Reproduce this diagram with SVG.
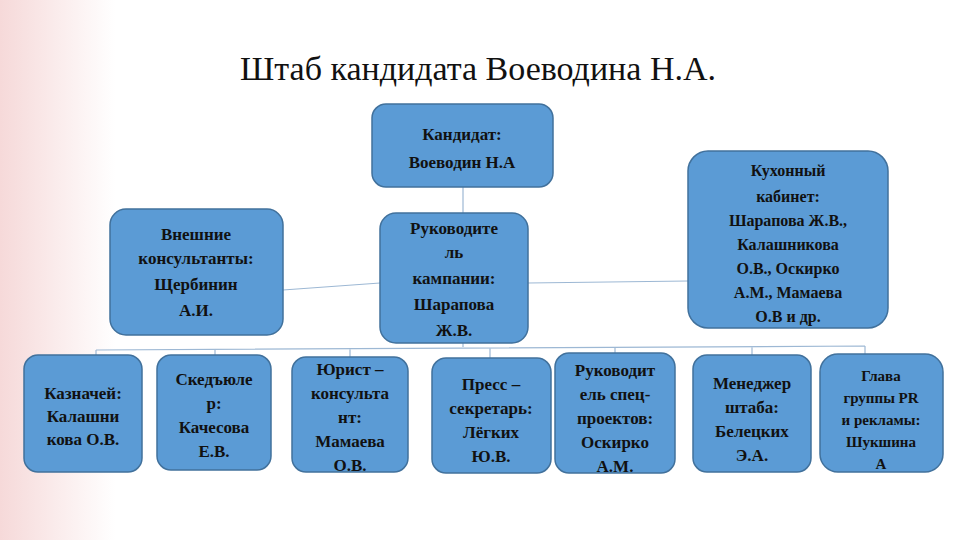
<svg xmlns="http://www.w3.org/2000/svg" width="960" height="540" viewBox="0 0 960 540">
<defs>
<linearGradient id="bg" x1="0" y1="0" x2="1" y2="0">
<stop offset="0" stop-color="#f6d9d9"/><stop offset="0.12" stop-color="#ffffff"/><stop offset="1" stop-color="#ffffff"/>
</linearGradient>
<style>
.n{fill:#5b9bd5;stroke:#41719c;stroke-width:1.5}
.c{stroke:#9db8d4;stroke-width:1.2;fill:none}
</style>
</defs>
<rect width="960" height="540" fill="url(#bg)"/>
<text x="478" y="80" font-family="Liberation Serif,serif" font-size="34" text-anchor="middle" fill="#111">Штаб кандидата Воеводина Н.А.</text>
<g id="connectors">
<path class="c" d="M463 187V213M283 290L380 283M528 283L688 281M463 343V347M96 350L865 346M96 350V356M215 349V355M350 349V357M490 348V358M615 348V353M752 347V355M865 346V354"/>
</g>
<g font-family="Liberation Serif, DejaVu Serif, serif" font-weight="bold" font-size="17" fill="#111" text-anchor="middle">
<g id="candidate"><rect class="n" x="372" y="104" width="181" height="83" rx="14"/>
<text><tspan x="462" y="140">Кандидат:</tspan><tspan x="462" y="168">Воеводин Н.А</tspan></text></g>
<g id="external"><rect class="n" x="110" y="209" width="173" height="126" rx="16"/>
<text><tspan x="196" y="240">Внешние</tspan><tspan x="196" y="264">консультанты:</tspan><tspan x="196" y="290">Щербинин</tspan><tspan x="196" y="316">А.И.</tspan></text></g>
<g id="leader"><rect class="n" x="380" y="213" width="148" height="130" rx="16"/>
<text><tspan x="454" y="234">Руководите</tspan><tspan x="454" y="258">ль</tspan><tspan x="454" y="284">кампании:</tspan><tspan x="454" y="310">Шарапова</tspan><tspan x="454" y="336">Ж.В.</tspan></text></g>
<g id="kitchen"><rect class="n" x="688" y="151" width="200" height="177" rx="20"/>
<text font-size="16"><tspan x="788" y="176">Кухонный</tspan><tspan x="788" y="202">кабинет:</tspan><tspan x="788" y="226">Шарапова Ж.В.,</tspan><tspan x="788" y="250">Калашникова</tspan><tspan x="788" y="274">О.В., Оскирко</tspan><tspan x="788" y="298">А.М., Мамаева</tspan><tspan x="788" y="322">О.В и др.</tspan></text></g>
<g id="treasurer"><rect class="n" x="24" y="355" width="118" height="117" rx="14"/>
<text><tspan x="83" y="399">Казначей:</tspan><tspan x="83" y="422">Калашни</tspan><tspan x="83" y="445">кова О.В.</tspan></text></g>
<g id="scheduler"><rect class="n" x="157" y="355" width="114" height="115" rx="14"/>
<text><tspan x="214" y="385">Скедъюле</tspan><tspan x="214" y="409">р:</tspan><tspan x="214" y="433">Качесова</tspan><tspan x="214" y="457">Е.В.</tspan></text></g>
<g id="lawyer"><rect class="n" x="292" y="357" width="116" height="115" rx="14"/>
<text><tspan x="350" y="375">Юрист –</tspan><tspan x="350" y="399">консульта</tspan><tspan x="350" y="423">нт:</tspan><tspan x="350" y="447">Мамаева</tspan><tspan x="350" y="471">О.В.</tspan></text></g>
<g id="press"><rect class="n" x="432" y="358" width="119" height="115" rx="14"/>
<text><tspan x="491" y="390">Пресс –</tspan><tspan x="491" y="414">секретарь:</tspan><tspan x="491" y="438">Лёгких</tspan><tspan x="491" y="462">Ю.В.</tspan></text></g>
<g id="special"><rect class="n" x="555" y="353" width="120" height="120" rx="14"/>
<text><tspan x="615" y="376">Руководит</tspan><tspan x="615" y="400">ель спец-</tspan><tspan x="615" y="424">проектов:</tspan><tspan x="615" y="448">Оскирко</tspan><tspan x="615" y="472">А.М.</tspan></text></g>
<g id="manager"><rect class="n" x="693" y="355" width="118" height="117" rx="14"/>
<text><tspan x="752" y="389">Менеджер</tspan><tspan x="752" y="413">штаба:</tspan><tspan x="752" y="437">Белецких</tspan><tspan x="752" y="461">Э.А.</tspan></text></g>
<g id="pr"><rect class="n" x="820" y="354" width="123" height="118" rx="18"/>
<text font-size="15"><tspan x="881" y="381">Глава</tspan><tspan x="881" y="403">группы PR</tspan><tspan x="881" y="425">и рекламы:</tspan><tspan x="881" y="447">Шукшина</tspan><tspan x="881" y="469">А</tspan></text></g>
</g>
</svg>
